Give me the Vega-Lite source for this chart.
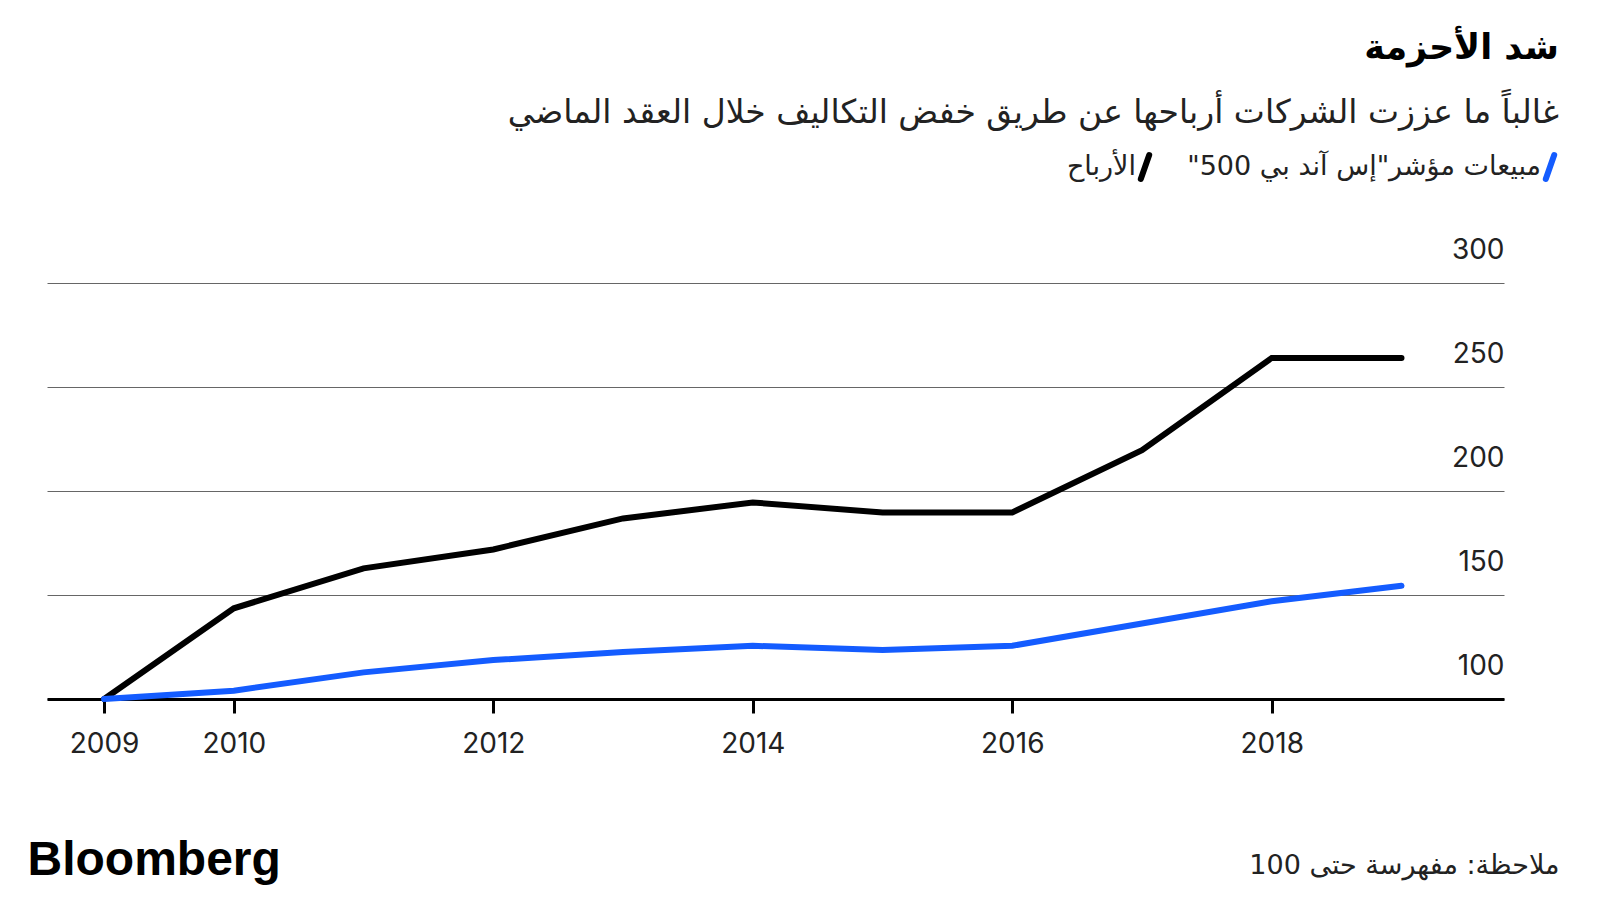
{
  "$schema": "https://vega.github.io/schema/vega-lite/v6.json",
  "width": 1457,
  "height": 416,
  "autosize": {"type": "none"},
  "padding": {"left": 47, "top": 283, "right": 96, "bottom": 201},
  "background": "white",
  "view": {"stroke": null},
  "title": {
    "text": "شد الأحزمة",
    "subtitle": "غالباً ما عززت الشركات أرباحها عن طريق خفض التكاليف خلال العقد الماضي",
    "anchor": "end",
    "frame": "group",
    "orient": "top",
    "font": "DejaVu Sans",
    "fontSize": 35,
    "fontWeight": "bold",
    "color": "#000000",
    "subtitleFont": "DejaVu Sans",
    "subtitleFontSize": 33,
    "subtitleColor": "#222222",
    "subtitlePadding": 31,
    "dx": 55,
    "offset": 22
  },
  "data": {
    "values": [
      {"year": 2009, "value": 100, "series": "الأرباح"},
      {"year": 2010, "value": 143.6, "series": "الأرباح"},
      {"year": 2011, "value": 162.8, "series": "الأرباح"},
      {"year": 2012, "value": 171.9, "series": "الأرباح"},
      {"year": 2013, "value": 186.8, "series": "الأرباح"},
      {"year": 2014, "value": 194.5, "series": "الأرباح"},
      {"year": 2015, "value": 189.7, "series": "الأرباح"},
      {"year": 2016, "value": 189.7, "series": "الأرباح"},
      {"year": 2017, "value": 219.6, "series": "الأرباح"},
      {"year": 2018, "value": 264.0, "series": "الأرباح"},
      {"year": 2019, "value": 264.0, "series": "الأرباح"},
      {"year": 2009, "value": 100, "series": "مبيعات مؤشر\"إس آند بي 500\"\u200f"},
      {"year": 2010, "value": 104.0, "series": "مبيعات مؤشر\"إس آند بي 500\"\u200f"},
      {"year": 2011, "value": 112.8, "series": "مبيعات مؤشر\"إس آند بي 500\"\u200f"},
      {"year": 2012, "value": 118.7, "series": "مبيعات مؤشر\"إس آند بي 500\"\u200f"},
      {"year": 2013, "value": 122.6, "series": "مبيعات مؤشر\"إس آند بي 500\"\u200f"},
      {"year": 2014, "value": 125.6, "series": "مبيعات مؤشر\"إس آند بي 500\"\u200f"},
      {"year": 2015, "value": 123.5, "series": "مبيعات مؤشر\"إس آند بي 500\"\u200f"},
      {"year": 2016, "value": 125.6, "series": "مبيعات مؤشر\"إس آند بي 500\"\u200f"},
      {"year": 2017, "value": 136.3, "series": "مبيعات مؤشر\"إس آند بي 500\"\u200f"},
      {"year": 2018, "value": 147.0, "series": "مبيعات مؤشر\"إس آند بي 500\"\u200f"},
      {"year": 2019, "value": 154.4, "series": "مبيعات مؤشر\"إس آند بي 500\"\u200f"}
    ]
  },
  "mark": {"type": "line", "strokeWidth": 6, "strokeCap": "round"},
  "encoding": {
    "x": {
      "field": "year",
      "type": "quantitative",
      "scale": {"domain": [2008.56, 2019.79], "nice": false, "zero": false},
      "axis": {
        "values": [2009, 2010, 2012, 2014, 2016, 2018],
        "format": "d",
        "grid": false,
        "labelFont": "Inter",
        "labelFontSize": 28,
        "labelColor": "#222222",
        "labelPadding": 17,
        "labelFlush": false,
        "labelOverlap": false,
        "domainColor": "#000000",
        "domainWidth": 3,
        "tickColor": "#000000",
        "tickWidth": 3,
        "tickSize": 14,
        "title": "ملاحظة: مفهرسة حتى 100",
        "titleFont": "DejaVu Sans",
        "titleFontSize": 27,
        "titleFontWeight": "normal",
        "titleColor": "#222222",
        "titleX": 1512,
        "titleY": 174,
        "titleAlign": "right",
        "titleBaseline": "alphabetic"
      }
    },
    "y": {
      "field": "value",
      "type": "quantitative",
      "scale": {"domain": [100, 300], "nice": false, "zero": false},
      "axis": {
        "orient": "right",
        "values": [100, 150, 200, 250, 300],
        "grid": true,
        "gridColor": "#666666",
        "gridWidth": 1,
        "domain": false,
        "ticks": false,
        "tickSize": 0,
        "labelAlign": "right",
        "labelBaseline": "alphabetic",
        "labelPadding": 0,
        "labelOffset": -25,
        "labelFont": "Inter",
        "labelFontSize": 28,
        "labelColor": "#222222",
        "title": "Bloomberg",
        "titleAngle": 0,
        "titleX": -1477,
        "titleY": 591,
        "titleAlign": "left",
        "titleBaseline": "alphabetic",
        "titleFont": "Liberation Sans",
        "titleFontSize": 48,
        "titleFontWeight": "bold",
        "titleColor": "#000000"
      }
    },
    "color": {
      "field": "series",
      "type": "nominal",
      "scale": {
        "domain": ["الأرباح", "مبيعات مؤشر\"إس آند بي 500\"\u200f"],
        "range": ["#000000", "#145cff"]
      },
      "legend": {
        "orient": "none",
        "legendX": 1083,
        "legendY": -131,
        "direction": "horizontal",
        "title": null,
        "symbolType": "M-0.35,1L0.35,-1",
        "symbolSize": 576,
        "symbolStrokeWidth": 6,
        "labelFont": "DejaVu Sans",
        "labelFontSize": 27,
        "labelColor": "#222222",
        "labelAlign": "right",
        "labelOffset": -24,
        "labelLimit": 600,
        "columnPadding": 25,
        "encode": {"symbols": {"update": {"strokeCap": {"value": "round"}}}}
      }
    }
  }
}
